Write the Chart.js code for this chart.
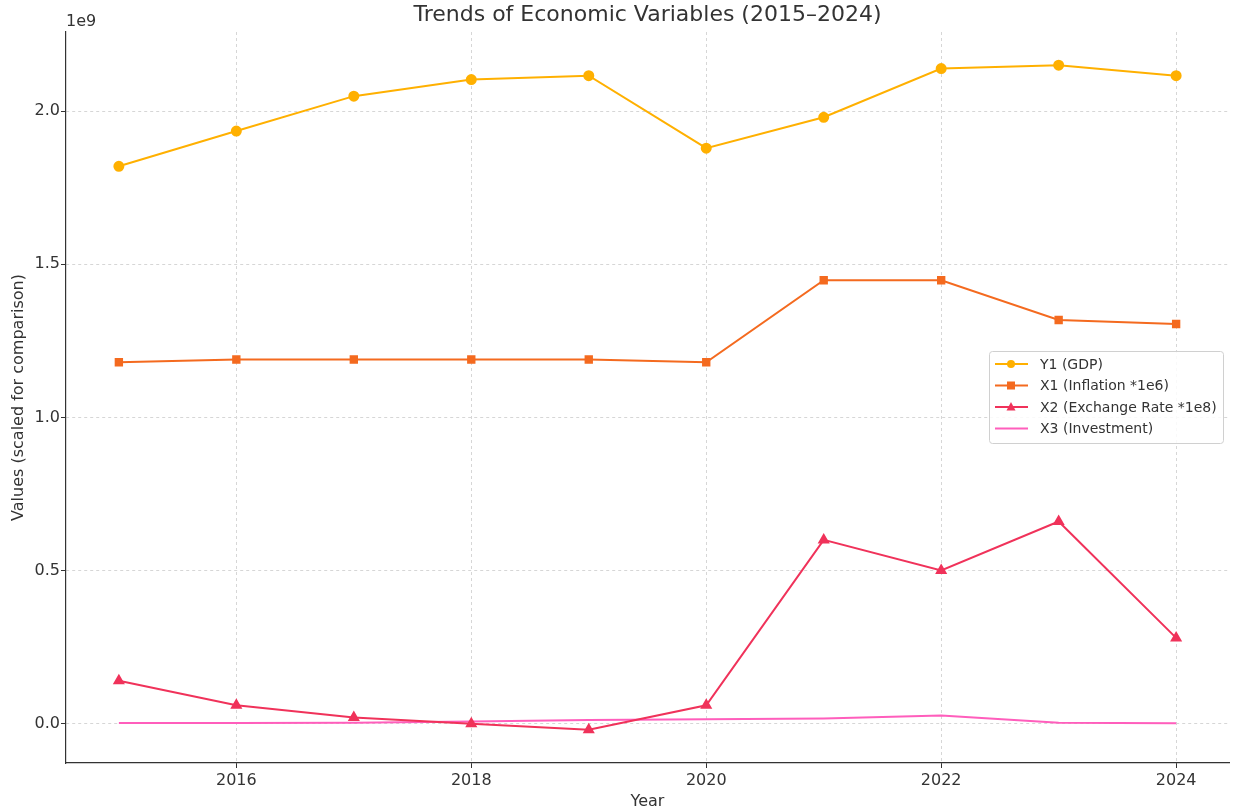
<!DOCTYPE html>
<html lang="en">
<head>
<meta charset="UTF-8">
<title>Trends of Economic Variables (2015–2024)</title>
<script src="https://cdn.jsdelivr.net/npm/chart.js"></script>
<style>
  html, body { margin: 0; padding: 0; background: #fff; }
  #wrap { width: 1236px; height: 811px; position: relative; }
</style>
</head>
<body>
<div id="wrap"><canvas id="chart" width="1236" height="811"></canvas></div>
<script>
// data (values in raw units; axis shows them scaled by 1e9)
const years = [2015, 2016, 2017, 2018, 2019, 2020, 2021, 2022, 2023, 2024];
const gdp = [1.820e9, 1.935e9, 2.049e9, 2.103e9, 2.116e9, 1.879e9, 1.980e9, 2.139e9, 2.150e9, 2.116e9];
const inflation = [1.180e9, 1.189e9, 1.189e9, 1.189e9, 1.189e9, 1.180e9, 1.448e9, 1.448e9, 1.318e9, 1.305e9];
const exchangeRate = [0.14e9, 0.06e9, 0.02e9, 0.0, -0.02e9, 0.06e9, 0.60e9, 0.50e9, 0.66e9, 0.28e9];
const investment = [0.002e9, 0.002e9, 0.003e9, 0.007e9, 0.012e9, 0.014e9, 0.017e9, 0.027e9, 0.003e9, 0.001e9];
const xTicks = [2016, 2018, 2020, 2022, 2024];
const yTicks = [0, 0.5e9, 1.0e9, 1.5e9, 2.0e9];

const FONT = "'DejaVu Sans', sans-serif";
const textColor = '#333333';

function pts(arr) {
  return years.map((y, i) => ({ x: y, y: arr[i] }));
}

// title, 1e9 offset label and the in-plot legend
const decorPlugin = {
  id: 'decor',
  afterDraw(chart) {
    const ctx = chart.ctx;
    const area = chart.chartArea;
    ctx.save();
    ctx.fillStyle = textColor;
    ctx.font = '22px ' + FONT;
    ctx.textAlign = 'center';
    ctx.textBaseline = 'middle';
    ctx.fillText('Trends of Economic Variables (2015–2024)', (area.left + area.right) / 2, 15);

    ctx.font = '16px ' + FONT;
    ctx.textAlign = 'left';
    ctx.textBaseline = 'bottom';
    ctx.fillText('1e9', area.left, area.top - 2);

    // legend
    const lx = 989, ly = 351, lw = 234, lh = 92;
    ctx.fillStyle = 'rgba(255,255,255,0.85)';
    ctx.strokeStyle = '#d0d0d0';
    ctx.lineWidth = 1;
    ctx.beginPath();
    ctx.roundRect(lx + 0.5, ly + 0.5, lw, lh, 3);
    ctx.fill();
    ctx.stroke();
    ctx.font = '14px ' + FONT;
    ctx.textBaseline = 'middle';
    chart.data.datasets.forEach((ds, i) => {
      const y = ly + 13 + i * 21.5;
      ctx.strokeStyle = ds.borderColor;
      ctx.lineWidth = 2;
      ctx.beginPath();
      ctx.moveTo(lx + 6, y);
      ctx.lineTo(lx + 39, y);
      ctx.stroke();
      ctx.fillStyle = ds.borderColor;
      const cx = lx + 22;
      if (ds.pointStyle === 'circle' && ds.pointRadius > 0) {
        ctx.beginPath(); ctx.arc(cx, y, 4, 0, Math.PI * 2); ctx.fill();
      } else if (ds.pointStyle === 'rect') {
        ctx.fillRect(cx - 4, y - 4, 8, 8);
      } else if (ds.pointStyle === 'triangle') {
        ctx.beginPath();
        ctx.moveTo(cx, y - 5); ctx.lineTo(cx + 4.5, y + 3.5); ctx.lineTo(cx - 4.5, y + 3.5);
        ctx.closePath(); ctx.fill();
      }
      ctx.fillStyle = textColor;
      ctx.fillText(ds.label, lx + 51, y + 1);
    });
    ctx.restore();
  }
};

new Chart(document.getElementById('chart'), {
  type: 'line',
  data: {
    datasets: [
      { label: 'Y1 (GDP)', data: pts(gdp), borderColor: '#FFB000', backgroundColor: '#FFB000',
        pointStyle: 'circle', pointRadius: 4.5, borderWidth: 2 },
      { label: 'X1 (Inflation *1e6)', data: pts(inflation), borderColor: '#F46A1F', backgroundColor: '#F46A1F',
        pointStyle: 'rect', pointRadius: 4.5, borderWidth: 2 },
      { label: 'X2 (Exchange Rate *1e8)', data: pts(exchangeRate), borderColor: '#F0325A', backgroundColor: '#F0325A',
        pointStyle: 'triangle', pointRadius: 5, borderWidth: 2 },
      { label: 'X3 (Investment)', data: pts(investment), borderColor: '#FF5EBC', backgroundColor: '#FF5EBC',
        pointStyle: 'circle', pointRadius: 0, borderWidth: 2 }
    ]
  },
  options: {
    responsive: false,
    animation: false,
    devicePixelRatio: 1,
    layout: { padding: { top: 32, right: 3, left: 0, bottom: 0 } },
    plugins: {
      legend: { display: false },
      tooltip: { enabled: false }
    },
    elements: { line: { tension: 0 }, point: { borderWidth: 0 } },
    scales: {
      x: {
        type: 'linear',
        min: 2014.55,
        max: 2024.45,
        afterBuildTicks: (s) => { s.ticks = xTicks.map(v => ({ value: v })); },
        afterFit: (s) => { s.height = 48; },
        border: { color: '#333', width: 1.2, dash: [3, 3] },
        grid: { color: '#d6d6d6', tickColor: '#333', tickLength: 5, drawTicks: true },
        ticks: { color: textColor, font: { family: FONT, size: 16 }, padding: 3, callback: v => String(v) },
        title: { display: true, text: 'Year', color: textColor, font: { family: FONT, size: 16 }, padding: { top: 0, bottom: 0 } }
      },
      y: {
        min: -0.1285e9,
        max: 2.2585e9,
        afterBuildTicks: (s) => { s.ticks = yTicks.map(v => ({ value: v })); },
        afterFit: (s) => { s.width = 66; },
        border: { color: '#333', width: 1.2, dash: [3, 3] },
        grid: { color: '#d6d6d6', tickColor: '#333', tickLength: 5, drawTicks: true },
        ticks: { color: textColor, font: { family: FONT, size: 16 }, padding: 1, callback: v => (v / 1e9).toFixed(1) },
        title: { display: true, text: 'Values (scaled for comparison)', color: textColor, font: { family: FONT, size: 16 }, padding: { top: 9, bottom: 0 } }
      }
    }
  },
  plugins: [decorPlugin]
});
</script>
</body>
</html>
